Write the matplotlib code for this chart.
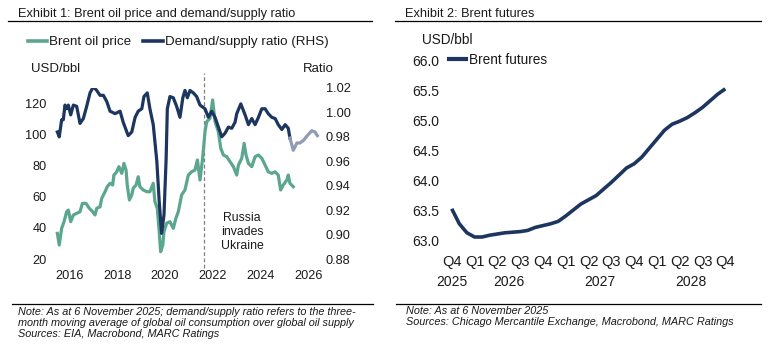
import numpy as np
import matplotlib
matplotlib.use("Agg")
import matplotlib.pyplot as plt
from matplotlib.lines import Line2D
from matplotlib.transforms import blended_transform_factory

plt.rcParams['font.family'] = ['Liberation Sans', 'DejaVu Sans']
plt.rcParams['text.color'] = '#1a1a1a'

# --- Exhibit 1 data (decimal years) ---
brent_t = [2015.99, 2016.07, 2016.17, 2016.27, 2016.38, 2016.45, 2016.55, 2016.66, 2016.80, 2016.94,
           2017.04, 2017.19, 2017.33, 2017.47, 2017.57, 2017.64, 2017.78, 2017.85, 2017.99, 2018.08,
           2018.20, 2018.31, 2018.36, 2018.48, 2018.57, 2018.69, 2018.78, 2018.87, 2018.92, 2019.01,
           2019.11, 2019.17, 2019.29, 2019.38, 2019.45, 2019.59, 2019.74, 2019.87, 2020.01, 2020.08,
           2020.18, 2020.26, 2020.32, 2020.41, 2020.46, 2020.57, 2020.71, 2020.85, 2020.96, 2021.06,
           2021.20, 2021.34, 2021.48, 2021.62, 2021.76, 2021.86, 2021.97, 2022.08, 2022.18, 2022.25,
           2022.39, 2022.50, 2022.60, 2022.74, 2022.84, 2022.95, 2023.09, 2023.23, 2023.37, 2023.51,
           2023.58, 2023.72, 2023.82, 2023.90, 2024.00, 2024.14, 2024.28, 2024.42, 2024.56, 2024.70,
           2024.83, 2024.98, 2025.12, 2025.25, 2025.35, 2025.46, 2025.61, 2025.67, 2025.74, 2025.88]
brent_v = [36.5, 29.0, 39.7, 44.0, 50.4, 51.5, 44.0, 48.3, 49.4, 50.4,
           55.8, 55.8, 52.6, 50.4, 48.3, 52.6, 53.6, 59.0, 63.3, 66.5,
           68.7, 67.6, 74.0, 76.1, 79.4, 75.1, 81.5, 77.2, 67.6, 58.0,
           61.2, 65.5, 67.6, 72.9, 66.5, 64.4, 63.3, 63.3, 68.7, 56.8,
           52.6, 37.6, 24.7, 29.0, 37.6, 43.0, 44.0, 39.7, 46.2, 50.4,
           61.2, 64.4, 74.0, 76.1, 77.2, 83.7, 70.8, 84.8, 101.9, 108.3,
           110.5, 122.3, 108.3, 101.9, 91.2, 86.9, 85.8, 82.6, 79.4, 74.0,
           80.4, 84.8, 94.4, 86.9, 81.5, 79.4, 85.8, 86.9, 84.8, 80.4,
           76.1, 75.1, 76.1, 74.0, 64.4, 67.6, 70.8, 74.0, 68.7, 66.5]

ratio_t = [2015.99, 2016.07, 2016.17, 2016.24, 2016.31, 2016.38, 2016.45, 2016.55, 2016.66, 2016.80,
           2016.94, 2017.08, 2017.22, 2017.36, 2017.50, 2017.64, 2017.78, 2017.92, 2018.06, 2018.20,
           2018.41, 2018.62, 2018.75, 2018.96, 2019.11, 2019.25, 2019.38, 2019.53, 2019.62, 2019.76,
           2019.87, 2020.01, 2020.16, 2020.26, 2020.36, 2020.46, 2020.55, 2020.60, 2020.71, 2020.85,
           2020.99, 2021.13, 2021.25, 2021.34, 2021.44, 2021.55, 2021.69, 2021.83, 2021.97, 2022.18,
           2022.32, 2022.46, 2022.60, 2022.74, 2022.88, 2023.02, 2023.16, 2023.30, 2023.44, 2023.51,
           2023.68, 2023.86, 2024.00, 2024.14, 2024.28, 2024.42, 2024.56, 2024.70, 2024.83, 2024.98,
           2025.12, 2025.25, 2025.40, 2025.54, 2025.67, 2025.74]
ratio_v = [0.984, 0.980, 0.994, 0.994, 1.006, 1.003, 1.006, 0.998, 1.006, 1.005,
           0.991, 0.995, 1.005, 1.016, 1.021, 1.018, 1.014, 1.014, 1.009, 1.001,
           0.999, 1.001, 0.992, 0.981, 0.984, 0.996, 1.001, 1.003, 1.013, 1.016,
           1.003, 0.990, 0.960, 0.927, 0.901, 0.916, 0.962, 1.003, 1.013, 1.012,
           1.005, 0.996, 1.012, 1.018, 1.012, 1.018, 1.016, 1.013, 1.006, 1.003,
           0.996, 1.001, 0.996, 0.988, 0.980, 0.983, 0.988, 0.987, 0.992, 0.999,
           1.007, 0.998, 0.990, 0.995, 0.990, 0.996, 1.003, 1.003, 0.999, 0.996,
           0.995, 0.990, 0.986, 0.990, 0.987, 0.979]

# EIA forecast part of the ratio
ratio_fc_t = [2025.74, 2025.88, 2026.03, 2026.16, 2026.30, 2026.47, 2026.65, 2026.79, 2026.89]
ratio_fc_v = [0.979, 0.969, 0.975, 0.975, 0.977, 0.981, 0.985, 0.984, 0.981]

invasion_t = 2022.15
year_labels = [2016, 2018, 2020, 2022, 2024, 2026]

# --- Exhibit 2 data (monthly contracts) ---
futures = [63.52, 63.27, 63.12, 63.05, 63.05, 63.08, 63.10, 63.12, 63.13, 63.14,
           63.16, 63.21, 63.24, 63.27, 63.31, 63.40, 63.50, 63.60, 63.67, 63.74,
           63.85, 63.96, 64.08, 64.20, 64.27, 64.38, 64.53, 64.68, 64.83, 64.93,
           64.98, 65.04, 65.12, 65.21, 65.32, 65.43, 65.52]
quarter_labels = ['Q4', 'Q1', 'Q2', 'Q3', 'Q4', 'Q1', 'Q2', 'Q3', 'Q4', 'Q1', 'Q2', 'Q3', 'Q4']
fut_years = ['2025', '2026', '2027', '2028']
fut_year_pos = [0, 7.5, 19.5, 31.5]

GREEN = '#5ba68f'
NAVY = '#1d365f'
GREY = '#8f9cb4'

W, H = 773, 349
fig = plt.figure(figsize=(W / 100, H / 100), dpi=100)


def fx(px):
    return px / W


def fy(py):
    return 1 - py / H


# ---------- Exhibit 1 ----------
ax1 = fig.add_axes([fx(55.2), fy(259), fx(320) - fx(55.2), fy(88) - fy(259)])
ax2 = ax1.twinx()

ax1.plot(brent_t, brent_v, color=GREEN, lw=2.3, solid_joinstyle='round')
ax2.plot(ratio_t, ratio_v, color=NAVY, lw=2.3, solid_joinstyle='round')
ax2.plot(ratio_fc_t, ratio_fc_v, color=GREY, lw=2.3, solid_joinstyle='round')

ax1.set_xlim(2015.9, 2027.0)
ax1.set_ylim(20, 130)
ax2.set_ylim(0.88, 1.02)
ax1.set_yticks(range(20, 121, 20))
ax2.set_yticks(np.arange(0.88, 1.021, 0.02))
ax2.set_yticklabels([f'{v:.2f}' for v in np.arange(0.88, 1.021, 0.02)])
ax1.set_xticks([y + 0.5 for y in year_labels])
ax1.set_xticklabels([str(y) for y in year_labels])

for a in (ax1, ax2):
    for s in a.spines.values():
        s.set_visible(False)
    a.tick_params(length=0, labelsize=9.2, colors='#1a1a1a')
ax1.tick_params(axis='y', pad=6)
ax1.tick_params(axis='x', pad=8)
ax2.tick_params(axis='y', pad=4)

ax1.axvline(invasion_t, ymin=-0.055, ymax=1.09, color='#808080', lw=0.9,
            ls=(0, (3, 2)), clip_on=False, zorder=0)
ax1.text(2023.73, 37.4, 'Russia\ninvades\nUkraine', ha='center', va='center',
         fontsize=8.8, linespacing=1.25)

fig.text(fx(31), fy(69), 'USD/bbl', fontsize=9.5, va='center', ha='left')
fig.text(fx(303), fy(69), 'Ratio', fontsize=9.5, va='center', ha='left')

handles1 = [Line2D([], [], color=GREEN, lw=2.6), Line2D([], [], color=NAVY, lw=2.6)]
fig.legend(handles1, ['Brent oil price', 'Demand/supply ratio (RHS)'],
           loc='center left', bbox_to_anchor=(fx(28), fy(42)), ncol=2, frameon=False,
           fontsize=9.6, handlelength=1.45, handletextpad=0.15, columnspacing=0.9,
           borderpad=0, borderaxespad=0)

# ---------- Exhibit 2 ----------
ax3 = fig.add_axes([fx(444.9), fy(240), fx(740.5) - fx(444.9), fy(60) - fy(240)])
months = np.arange(len(futures))
ax3.plot(months, futures, color=NAVY, lw=2.6, solid_capstyle='butt', clip_on=False)
ax3.set_xlim(-0.9, 38)
ax3.set_ylim(63.0, 66.0)
ax3.set_yticks(np.arange(63.0, 66.01, 0.5))
ax3.set_yticklabels([f'{v:.1f}' for v in np.arange(63.0, 66.01, 0.5)])
ax3.set_xticks(np.arange(0, 37, 3))
ax3.set_xticklabels(quarter_labels)
for s in ax3.spines.values():
    s.set_visible(False)
ax3.tick_params(length=0, labelsize=10, colors='#1a1a1a')
ax3.tick_params(axis='y', pad=4)
ax3.tick_params(axis='x', labelsize=10.5, pad=11)
tr = blended_transform_factory(ax3.transData, fig.transFigure)
for lab, pos in zip(fut_years, fut_year_pos):
    ax3.text(pos, fy(282), lab, transform=tr, ha='center', va='center', fontsize=10)

fig.text(fx(422), fy(40), 'USD/bbl', fontsize=9.8, va='center', ha='left')
fig.legend([Line2D([], [], color=NAVY, lw=3)], ['Brent futures'],
           loc='center left', bbox_to_anchor=(fx(449), fy(60)), frameon=False,
           fontsize=9.8, handlelength=1.25, handletextpad=0.2,
           borderpad=0, borderaxespad=0)

# ---------- titles, rules and notes ----------
fig.text(fx(18), fy(14), 'Exhibit 1: Brent oil price and demand/supply ratio',
         fontsize=9.2, va='center', ha='left')
fig.text(fx(405), fy(14), 'Exhibit 2: Brent futures', fontsize=9.2, va='center', ha='left')
for x0, x1 in [(8, 372), (395, 761)]:
    fig.add_artist(Line2D([fx(x0), fx(x1)], [fy(21), fy(21)], color='black', lw=0.9))
for x0, x1 in [(12, 373), (396, 761)]:
    fig.add_artist(Line2D([fx(x0), fx(x1)], [fy(304), fy(304)], color='black', lw=0.9))

note_left = ['Note: As at 6 November 2025; demand/supply ratio refers to the three-',
             'month moving average of global oil consumption over global oil supply',
             'Sources: EIA, Macrobond, MARC Ratings']
note_right = ['Note: As at 6 November 2025',
              'Sources: Chicago Mercantile Exchange, Macrobond, MARC Ratings']
for i, line in enumerate(note_left):
    fig.text(fx(18), fy(312 + 11 * i), line, fontsize=7.8, style='italic',
             va='center', ha='left')
for i, line in enumerate(note_right):
    fig.text(fx(406), fy(311 + 11 * i), line, fontsize=7.8, style='italic',
             va='center', ha='left')

fig.savefig('out.png', dpi=100)
